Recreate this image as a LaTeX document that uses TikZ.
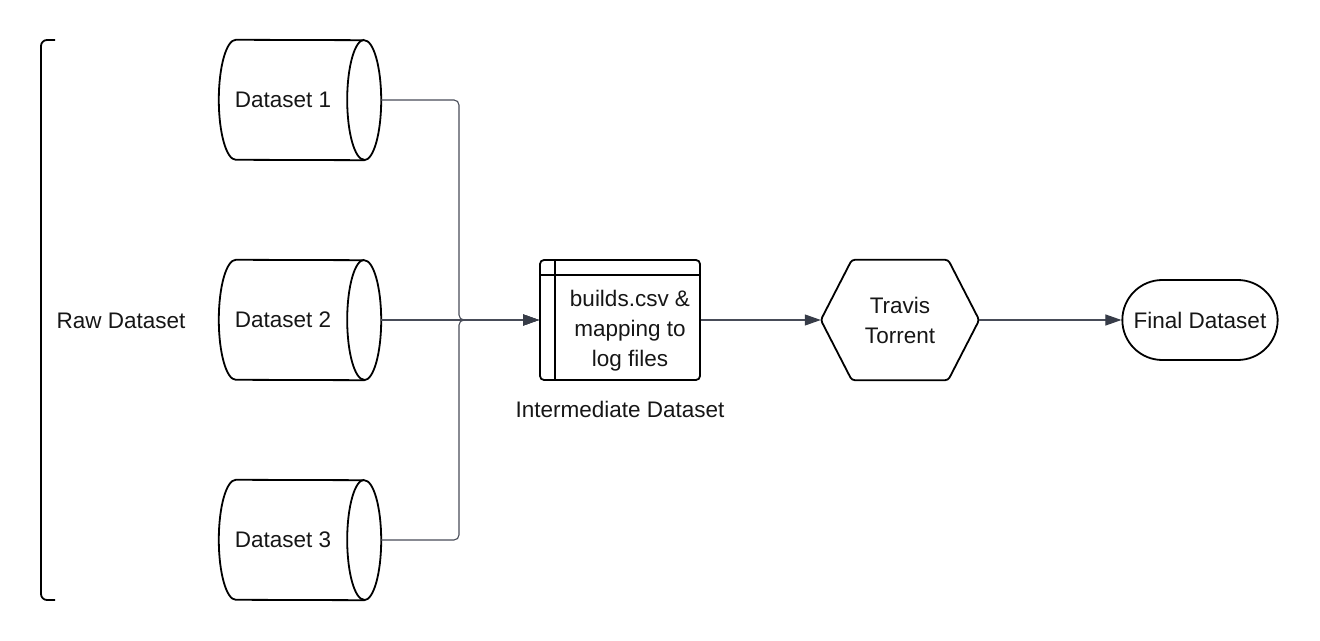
\documentclass[tikz,border=0pt]{standalone}
\usepackage{fontspec}
\setmainfont{Liberation Sans}
\usetikzlibrary{positioning,shapes.misc,arrows.meta}
\definecolor{linkgray}{RGB}{72,76,88}
\definecolor{tipgray}{RGB}{55,60,72}
\definecolor{inkblack}{RGB}{22,22,22}

\begin{document}
\begin{tikzpicture}
            [x=1pt, y=1pt,
            font=\fontsize{22.5}{30}\selectfont,
            every node/.style={text=inkblack, align=center},
            outline/.style={draw=black, line width=1.8pt},
            dataset/.style={minimum width=128pt, minimum height=120pt, inner sep=0pt},
            capradius/.style={x radius=17pt, y radius=60pt},
            storage/.style={outline, rectangle, rounded corners=4pt,
            minimum width=160pt, minimum height=120pt},
            process/.style={minimum width=158pt, minimum height=120pt, inner sep=0pt},
            terminal/.style={outline, rounded rectangle,
            minimum width=162pt, minimum height=80pt},
            link/.style={draw=linkgray, line width=1.1pt, rounded corners=5pt,
            -{Triangle[length=16pt, width=11pt, color=tipgray]}},
            bracket/.style={draw=black, line width=1.8pt, rounded corners=6pt}]
            \useasboundingbox (0,0) rectangle (1320,640);
            % raw data sources
            \node (raw) at (121,319) {Raw Dataset};
            \draw[bracket] (55,600) -- (41,600) -- (41,40) -- (55,40);
            \node[dataset] (ds1) at (283,540) {Dataset 1};
            \node[dataset] (ds2) at (283,320) {Dataset 2};
            \node[dataset] (ds3) at (283,100) {Dataset 3};
            \foreach \ds in {ds1,ds2,ds3} {
                \draw[outline] ([xshift=17pt]\ds.north west)
                    arc[capradius, start angle=90, end angle=270]
                    -- ([xshift=17pt]\ds.south east)
                    arc[capradius, start angle=-90, end angle=90] -- cycle;
                \draw[outline] ([xshift=17pt]\ds.north east)
                    arc[capradius, start angle=90, end angle=270];
            }
            % processing chain
            \node[storage] (builds) at (620,320) {};
            \draw[outline] ([xshift=16pt]builds.north west) -- ([xshift=16pt]builds.south west);
            \draw[outline] ([yshift=-16pt]builds.north west) -- ([yshift=-16pt]builds.north east);
            \node (buildstext) at ([xshift=10pt, yshift=-11pt]builds.center)
                {builds.csv \&\\mapping to\\log files};
            \node[below=17pt of builds] (inter) {Intermediate Dataset};
            \node[process] (travis) at (900,320) {Travis\\Torrent};
            \draw[outline, rounded corners=3pt] (travis.west)
                -- ([xshift=31pt]travis.north west) -- ([xshift=-31pt]travis.north east)
                -- (travis.east)
                -- ([xshift=-31pt]travis.south east) -- ([xshift=31pt]travis.south west)
                -- cycle;
            \node[terminal] (final) at (1200,320) {Final Dataset};
            % connectors
            \coordinate (merge) at (459,320);
            \draw[link] ([xshift=34pt]ds1.east) -| (merge) -- (builds.west);
            \draw[link] ([xshift=34pt]ds3.east) -| (merge) -- (builds.west);
            \draw[link] ([xshift=34pt]ds2.east) -- (builds.west);
            \draw[link] (builds.east) -- (travis.west);
            \draw[link] (travis.east) -- (final.west);
\end{tikzpicture}
\end{document}
